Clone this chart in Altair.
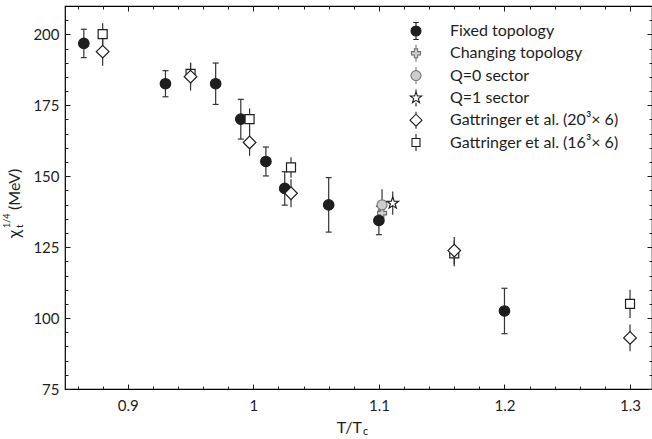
import altair as alt
import pandas as pd

# chi_t^(1/4) (MeV) against T/Tc for several lattice determinations
series_names = [
    "Fixed topology",
    "Changing topology",
    "Q=0 sector",
    "Q=1 sector",
    "Gattringer et al. (20³× 6)",
    "Gattringer et al. (16³× 6)",
]

fixed_T = [0.865, 0.93, 0.97, 0.99, 1.01, 1.025, 1.06, 1.10, 1.20]
fixed_chi = [196.8, 182.6, 182.6, 170.1, 155.2, 145.7, 139.9, 134.4, 102.5]
fixed_err = [5.0, 4.6, 7.3, 7.0, 5.1, 5.9, 9.6, 5.0, 8.0]

changing_T = [1.1025]
changing_chi = [137.0]
changing_err = [3.0]

q0_T = [1.1025]
q0_chi = [139.9]
q0_err = [5.5]

q1_T = [1.111]
q1_chi = [140.5]
q1_err = [4.1]

g20_T = [0.88, 0.95, 0.997, 1.03, 1.16, 1.30]
g20_chi = [193.9, 185.1, 161.9, 144.0, 123.8, 93.0]
g20_err = [5.0, 4.9, 4.7, 4.9, 4.8, 4.7]

g16_T = [0.88, 0.95, 0.997, 1.03, 1.16, 1.30]
g16_chi = [200.1, 186.1, 170.1, 153.1, 122.8, 105.0]
g16_err = [3.8, 3.9, 3.8, 3.6, 4.5, 5.0]

x_ticks = [0.86, 0.88, 0.90, 0.92, 0.94, 0.96, 0.98, 1.00, 1.02, 1.04, 1.06, 1.08,
           1.10, 1.12, 1.14, 1.16, 1.18, 1.20, 1.22, 1.24, 1.26, 1.28, 1.30]
y_ticks = list(range(75, 210, 5))

x_title = ["T/T", "c"]
y_title = ["χ", "t", "1/4", "(MeV)"]

measurements = {
    series_names[0]: (fixed_T, fixed_chi, fixed_err),
    series_names[1]: (changing_T, changing_chi, changing_err),
    series_names[2]: (q0_T, q0_chi, q0_err),
    series_names[3]: (q1_T, q1_chi, q1_err),
    series_names[4]: (g20_T, g20_chi, g20_err),
    series_names[5]: (g16_T, g16_chi, g16_err),
}

rows = []
for name, (ts, chis, errs) in measurements.items():
    for t, c, e in zip(ts, chis, errs):
        rows.append({"series": name, "T": t, "chi": c, "lo": c - e, "hi": c + e})
df = pd.DataFrame(rows)

FONT = "Lato"
INK = "#1e1e1e"
BAR = "#333333"

x_scale = alt.Scale(domain=[0.85, 1.3175], nice=False, zero=False)
y_scale = alt.Scale(domain=[75, 210], nice=False, zero=False)

major_x = "abs(datum.value * 10 - round(datum.value * 10)) < 0.001"
major_y = "datum.value % 25 == 0"


def frame_axis(orient, values, test, labels, fmt=None, pad=6):
    # inward ticks: the axis is pulled inside the frame by the tick length
    kw = dict(
        orient=orient, values=values, offset=-5, tickSize=5, tickWidth=1,
        tickColor=INK,
        tickDash={"condition": {"test": test, "value": [6, 0]}, "value": [0, 2, 3]},
        domain=False, grid=False, title=None, labels=labels,
    )
    if labels:
        kw.update(
            format=fmt, labelExpr=f"({test}) ? datum.label : ''",
            labelFont=FONT, labelFontSize=15, labelColor=INK, labelPadding=pad,
            labelOverlap=False, labelFlush=False,
        )
    return alt.Axis(**kw)


base = alt.Chart(df)

# error bars (carry the top and right tick axes)
bars = base.mark_rule(color=BAR, strokeWidth=1.2).encode(
    x=alt.X("T:Q", scale=x_scale, axis=frame_axis("top", x_ticks, major_x, False)),
    y=alt.Y("lo:Q", scale=y_scale, axis=frame_axis("right", y_ticks, major_y, False)),
    y2="hi:Q",
)

# end caps on the fixed-topology error bars
caps = (
    base.transform_filter(alt.datum.series == series_names[0])
    .transform_fold(["lo", "hi"], as_=["end", "val"])
    .mark_point(shape="stroke", size=36, color=BAR, strokeWidth=1.2, opacity=1)
    .encode(
        x=alt.X("T:Q", scale=x_scale, axis=None),
        y=alt.Y("val:Q", scale=y_scale, axis=None),
    )
)

STAR = ("M0,-1L0.235,-0.324L0.951,-0.309L0.38,0.124L0.588,0.809L0,0.4"
        "L-0.588,0.809L-0.38,0.124L-0.951,-0.309L-0.235,-0.324Z")

point_style = {
    series_names[1]: dict(shape="cross", fill="#cfcfcf", stroke="#6e6e6e", size=81),
    series_names[0]: dict(shape="circle", fill=INK, stroke=INK, size=110),
    series_names[2]: dict(shape="circle", fill="#cdcdcd", stroke="#7a7a7a", size=100),
    series_names[3]: dict(shape=STAR, fill="white", stroke=INK, size=150),
    series_names[5]: dict(shape="square", fill="white", stroke=INK, size=81),
    series_names[4]: dict(shape="diamond", fill="white", stroke=INK, size=160),
}

point_layers = []
for i, (name, st) in enumerate(point_style.items()):
    first = i == 0
    point_layers.append(
        base.transform_filter(alt.datum.series == name)
        .mark_point(opacity=1, strokeWidth=1.2, filled=False, **st)
        .encode(
            x=alt.X("T:Q", scale=x_scale,
                    axis=frame_axis("bottom", x_ticks, major_x, True, ".2~f", 9) if first else None),
            y=alt.Y("chi:Q", scale=y_scale,
                    axis=frame_axis("left", y_ticks, major_y, True, "d", 6) if first else None),
        )
    )

# legend keys: marker with its error bar
CIRCLE = "M1,0A1,1,0,1,1,-1,0A1,1,0,1,1,1,0Z"
legend_shapes = [
    CIRCLE + "M0,-1.7V-1M0,1V1.7M-0.55,-1.7H0.55M-0.55,1.7H0.55",
    "M-0.33,-0.9H0.33V-0.33H0.9V0.33H0.33V0.9H-0.33V0.33H-0.9V-0.33H-0.33Z"
    "M0,-1.7V-0.9M0,0.9V1.7",
    CIRCLE + "M0,-1.7V-1M0,1V1.7",
    "M0,-1.2L0.28,-0.39L1.14,-0.37L0.46,0.15L0.71,0.97L0,0.48L-0.71,0.97"
    "L-0.46,0.15L-1.14,-0.37L-0.28,-0.39Z" + "M0,-1.7V-1.2M0,0.97V1.7",
    "M-1.2,0L0,-1.2L1.2,0L0,1.2Z" + "M0,-1.7V-1.2M0,1.2V1.7",
    "M-0.8,-0.8H0.8V0.8H-0.8Z" + "M0,-1.7V-0.8M0,0.8V1.7",
]
legend_fill = [INK, "#cfcfcf", "#cdcdcd", "white", "white", "white"]
legend_stroke = [INK, "#6e6e6e", "#7a7a7a", INK, INK, INK]

legend_layer = alt.Chart(pd.DataFrame({"series": series_names})).mark_point(
    opacity=0, strokeWidth=1.2, filled=False
).encode(
    shape=alt.Shape("series:N", title=None,
                    scale=alt.Scale(domain=series_names, range=legend_shapes)),
    fill=alt.Fill("series:N", title=None,
                  scale=alt.Scale(domain=series_names, range=legend_fill)),
    stroke=alt.Stroke("series:N", title=None,
                      scale=alt.Scale(domain=series_names, range=legend_stroke)),
)

one = pd.DataFrame({"k": [0]})


def label(text, x, y, size, angle=0, align="left"):
    return alt.Chart(one).mark_text(
        text=text, font=FONT, fontSize=size, color=INK, angle=angle,
        align=align, baseline="middle",
    ).encode(x=alt.value(x), y=alt.value(y))


titles = [
    label(x_title[0], 297, 422, 16, align="right"),
    label(x_title[1], 298, 426, 11),
    label(y_title[0], -50, 232, 17, angle=270),
    label(y_title[1], -45, 222, 10, angle=270),
    label(y_title[2], -58, 222, 9, angle=270),
    label(y_title[3], -50, 204, 16, angle=270),
]

chart = (
    alt.layer(bars, caps, *point_layers, legend_layer, *titles)
    .resolve_axis(x="independent", y="independent")
    .properties(
        width=587, height=383,
        padding={"left": 65, "top": 6, "right": 0, "bottom": 50},
        autosize=alt.AutoSizeParams(type="none"),
    )
    .configure_view(stroke="black", strokeWidth=1.2)
    .configure_legend(
        orient="none", legendX=343, legendY=17, padding=0,
        symbolSize=100, symbolStrokeWidth=1.1, symbolOpacity=1,
        labelFont=FONT, labelFontSize=16, labelColor=INK, labelLimit=320,
        labelOffset=26, rowPadding=0.3,
    )
)

chart.save("out.html", embed_options={"renderer": "svg", "actions": False})
